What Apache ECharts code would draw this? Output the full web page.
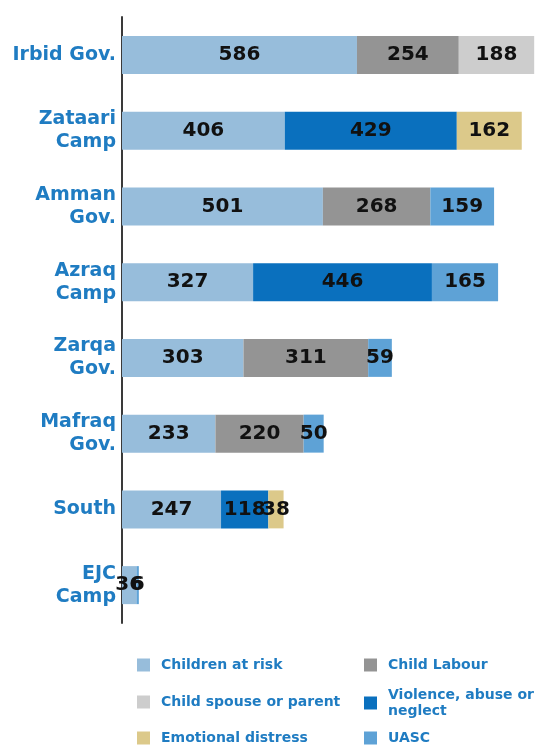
<!DOCTYPE html>
<html>
<head>
<meta charset="utf-8">
<script src="https://cdn.jsdelivr.net/npm/echarts@6/dist/echarts.min.js"></script>
<style>
  html, body { margin: 0; padding: 0; background: #fff; }
  #chart { width: 545px; height: 745px; }
</style>
</head>
<body>
<div id="chart"></div>
<script>
document.addEventListener('DOMContentLoaded', function () {
    var myChart = echarts.init(document.getElementById('chart'));

    // data
    var categories = ['Irbid Gov.', 'Zataari\nCamp', 'Amman\nGov.', 'Azraq\nCamp', 'Zarqa\nGov.', 'Mafraq\nGov.', 'South', 'EJC\nCamp'];
    var childrenAtRisk = [586, 406, 501, 327, 303, 233, 247, 36];
    var childLabour    = [254, 0, 268, 0, 311, 220, 0, 0];
    var childSpouse    = [188, 0, 0, 0, 0, 0, 0, 0];
    var violence       = [0, 429, 0, 446, 0, 0, 118, 0];
    var emotional      = [0, 162, 0, 0, 0, 0, 38, 0];
    var uasc           = [0, 0, 159, 165, 59, 50, 0, 6];

    var seriesDefs = [
        { name: 'Children at risk', data: childrenAtRisk, color: '#97bddb' },
        { name: 'Child Labour', data: childLabour, color: '#949494' },
        { name: 'Child spouse or parent', data: childSpouse, color: '#cdcdcd' },
        { name: 'Violence, abuse or neglect', data: violence, color: '#0a70be' },
        { name: 'Emotional distress', data: emotional, color: '#dcc98a' },
        { name: 'UASC', data: uasc, color: '#5ea2d6' }
    ];

    var blue = '#1f7cc2';

    var series = seriesDefs.map(function (d) {
        return {
            name: d.name,
            type: 'bar',
            stack: 'total',
            barWidth: 38,
            data: d.data.map(function (v) { return v === 0 ? '-' : v; }),
            itemStyle: { color: d.color },
            label: {
                show: true,
                position: 'inside',
                color: '#111',
                fontFamily: 'DejaVu Sans',
                fontWeight: 'bold',
                fontSize: 20
            }
        };
    });

    // legend slots: [left, top]
    var legendPos = [[137, 657], [364, 657], [137, 694], [364, 687], [137, 730], [364, 730]];
    var legendText = {
        'Violence, abuse or neglect': 'Violence, abuse or\nneglect'
    };
    var legends = seriesDefs.map(function (d, i) {
        return {
            data: [d.name],
            left: legendPos[i][0],
            top: legendPos[i][1],
            padding: 0,
            itemWidth: 13,
            itemHeight: 13,
            itemGap: 0,
            icon: 'rect',
            formatter: function (n) { return legendText[n] || n; },
            textStyle: {
                color: blue,
                fontFamily: 'DejaVu Sans',
                fontWeight: 'bold',
                fontSize: 14,
                lineHeight: 16,
                padding: [0, 0, 0, 6]
            }
        };
    });

    var option = {
        animation: false,
        legend: legends,
        grid: { left: 122, right: 2, top: 17, height: 606 },
        xAxis: {
            type: 'value',
            min: 0,
            max: 1050,
            show: false
        },
        yAxis: {
            type: 'category',
            inverse: true,
            data: categories,
            axisLine: { show: true, lineStyle: { color: '#3a3a3a', width: 2 } },
            axisTick: { show: false },
            axisLabel: {
                color: blue,
                fontFamily: 'DejaVu Sans',
                fontWeight: 'bold',
                fontSize: 19,
                lineHeight: 23,
                margin: 6,
                align: 'right'
            }
        },
        series: series
    };
    myChart.setOption(option);
});
</script>
</body>
</html>
